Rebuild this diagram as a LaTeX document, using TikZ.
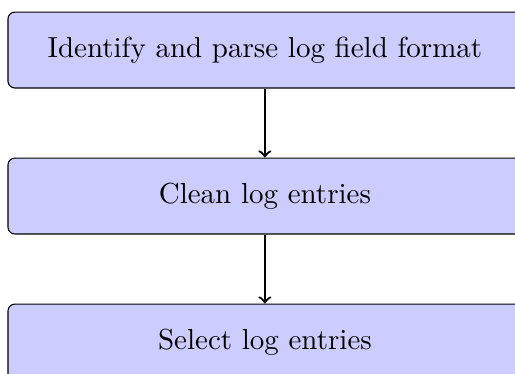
\documentclass[tikz,border=0pt]{standalone}
\usetikzlibrary{positioning}
\begin{document}
\begin{tikzpicture}[
    stage/.style={rectangle, rounded corners=2.5pt, draw=black, fill=blue!20,
                  minimum width=186.9pt, minimum height=27.6pt, align=center,
                  font=\fontsize{10.55}{13}\selectfont},
    flow/.style={thick, ->},
    node distance=25.1pt
]
    % 裁剪边界
    \useasboundingbox (-96.35pt,18.2pt) rectangle ++(187.3pt,-136pt);

    % 三个处理步骤
    \node[stage] (parse) at (0,0) {Identify and parse log field format};
    \node[stage, below=of parse] (clean) {Clean log entries};
    \node[stage, below=of clean] (select) {Select log entries};

    % 连接箭头
    \draw[flow] (parse) -- (clean);
    \draw[flow] (clean) -- (select);
\end{tikzpicture}
\end{document}
